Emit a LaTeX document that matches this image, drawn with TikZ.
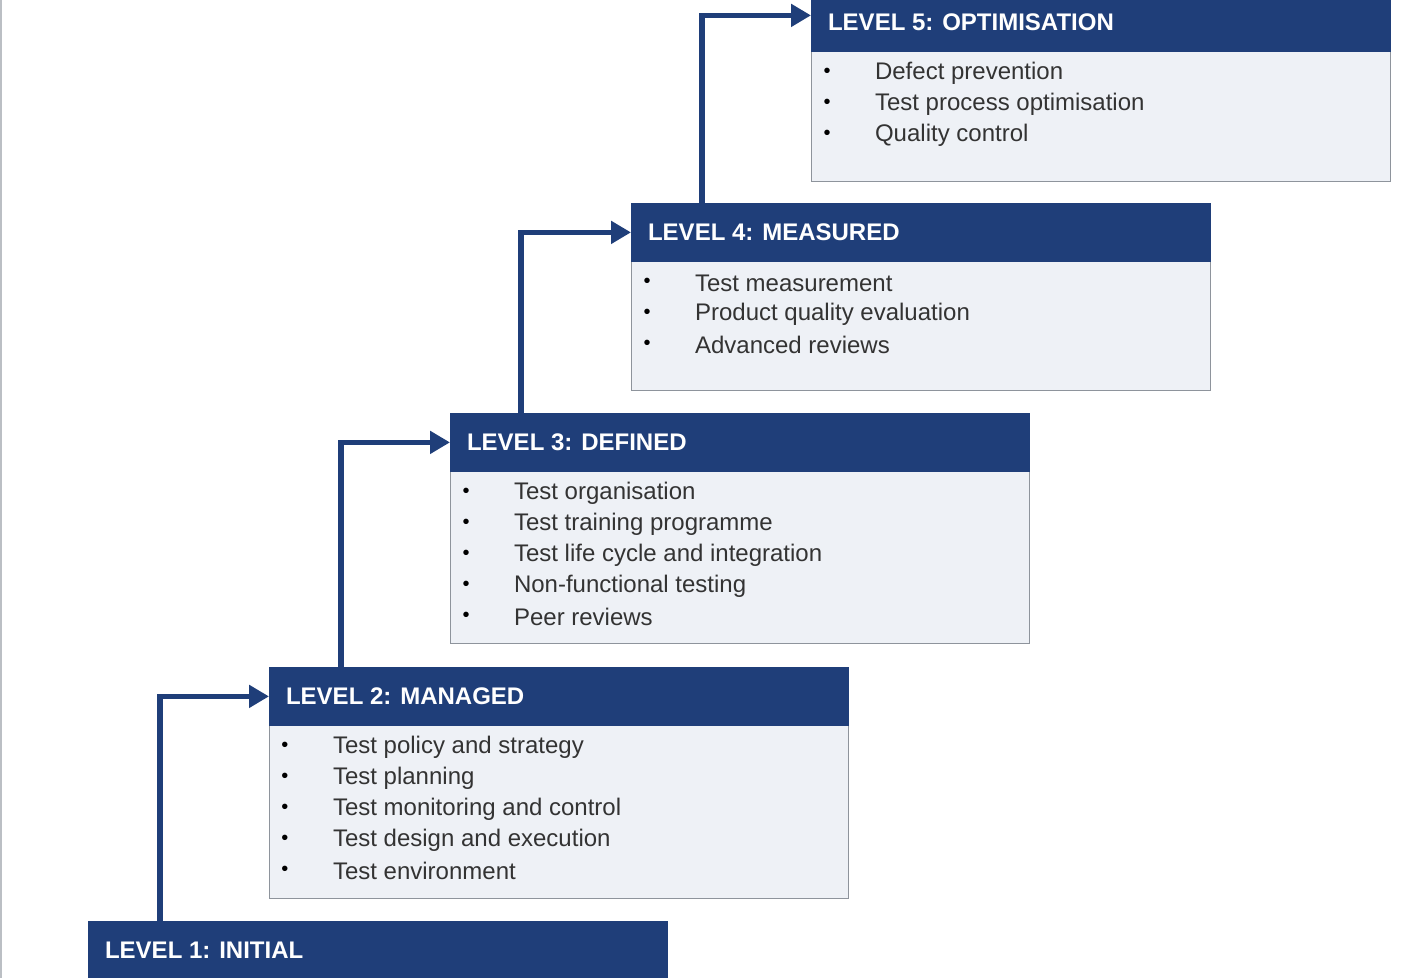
\documentclass[tikz,border=0pt]{standalone}
\usepackage{fontspec}
\setmainfont{Liberation Sans}
\usetikzlibrary{arrows.meta}
\definecolor{hdr}{HTML}{1F3E79}
\definecolor{bdy}{HTML}{EEF1F6}
\definecolor{bord}{HTML}{8E949C}
\tikzset{
 hbox/.style={fill=hdr, draw=hdr, minimum width=289.5pt, minimum height=29pt, anchor=north west, inner sep=0pt},
 htext/.style={text=white, font=\bfseries\fontsize{12}{14}\selectfont, anchor=west},
 bbox/.style={fill=bdy, draw=bord, line width=0.6pt, minimum width=289.5pt, anchor=north west, inner sep=0pt},
 itm/.style={anchor=west, font=\fontsize{12}{14}\selectfont, text=black!80},
 arr/.style={draw=hdr, line width=2.6pt, -{Triangle[length=10pt,width=11pt]}}
}
\newcommand{\lvl}[6]{%
 % #1 name, #2 x, #3 y(top of header), #4 body height px, #5 title, #6 items
 \node[bbox, minimum height=#4*0.5pt] (#1b) at (#2,#3+57) {};
 \node[hbox] (#1h) at (#2,#3) {};
 \node[htext] (#1t) at ([xshift=5pt]#1h.west) {#5};
 \foreach \t [count=\i] in {#6} {
   \node[itm] (#1i\i) at ([xshift=28.5pt,yshift=-11.5pt-(\i-1)*15.5pt]#1b.north west) {\t};
   \node[anchor=center, font=\fontsize{10}{10}\selectfont] at ([xshift=8pt,yshift=-11.5pt-(\i-1)*15.5pt]#1b.north west) {•};
 }
}
\begin{document}
\begin{tikzpicture}[x=0.5pt,y=-0.5pt]
\useasboundingbox[fill=white] (0,0) rectangle (1421,978);
\draw[bord!60, line width=1pt] (1,0) -- (1,978);
\lvl{a}{811}{-7}{131}{LEVEL 5: OPTIMISATION}{Defect prevention,Test process optimisation,Quality control}
\lvl{b}{631}{203}{130}{LEVEL 4: MEASURED}{Test measurement,Product quality evaluation,Advanced reviews}
\lvl{c}{450}{413}{173}{LEVEL 3: DEFINED}{Test organisation,Test training programme,Test life cycle and integration,Non-functional testing,Peer reviews}
\lvl{d}{269}{667}{174}{LEVEL 2: MANAGED}{Test policy and strategy,Test planning,Test monitoring and control,Test design and execution,Test environment}
\node[hbox] (eh) at (88,921) {};
\node[htext] (et) at ([xshift=5pt]eh.west) {LEVEL 1: INITIAL};
\draw[arr] ([xshift=36pt]eh.north west) |- (dh.west);
\draw[arr] ([xshift=36pt]dh.north west) |- (ch.west);
\draw[arr] ([xshift=35.5pt]ch.north west) |- (bh.west);
\draw[arr] ([xshift=35.5pt]bh.north west) |- ([yshift=3.5pt]ah.west);
\end{tikzpicture}
\end{document}
